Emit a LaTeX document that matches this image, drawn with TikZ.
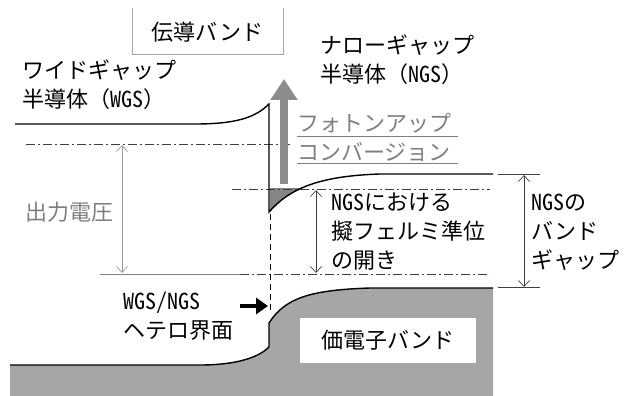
\documentclass[tikz,border=0pt]{standalone}
\usepackage{fontspec}
\setmainfont{Noto Sans CJK JP}
\newfontfamily\hw[CharacterWidth=Half]{Noto Sans CJK JP}
\newcommand{\lat}[1]{{\hw #1}}
\usetikzlibrary{arrows.meta}
\definecolor{vband}{HTML}{A6A6A6}
\definecolor{arrgray}{HTML}{8C8C8C}
\definecolor{txtgray}{HTML}{7F7F7F}
\begin{document}
\begin{tikzpicture}[x=1pt,y=-1pt,
  every node/.style={inner sep=0pt, font=\fontsize{22}{29}\selectfont},
  lbl/.style={anchor=west, align=left},
  band/.style={line width=1.4pt, draw=black},
  ddash/.style={line width=0.9pt, draw=darkgray, dash pattern=on 9pt off 3pt on 2pt off 3pt},
  thinarr/.style={line width=0.7pt, draw=gray, {Straight Barb[length=6pt,width=11pt]}-{Straight Barb[length=6pt,width=11pt]}},
  bigarr/.style={line width=8pt, draw=arrgray, -{Triangle[length=21pt,width=26pt]}},
  blkarr/.style={line width=4pt, draw=black, -{Triangle[length=12pt,width=16pt]}},
  gapline/.style={line width=0.9pt, draw=darkgray}
]
\useasboundingbox (0,0) rectangle (625,396);

% valence band (grey region)
\fill[vband] (10,396) -- (10,365) -- (200,365) .. controls (235,365) and (258,358) .. (269,347) -- (269,323)
  .. controls (285,298) and (310,290) .. (370,288) -- (493,288) -- (493,396) -- cycle;
\draw[band] (10,365) -- (200,365) .. controls (235,365) and (258,358) .. (269,347) -- (269,323)
  .. controls (285,298) and (310,290) .. (370,288) -- (493,288);

% small grey wedge under NGS quasi-Fermi level
\begin{scope}
  \clip (269,189) rectangle (310,215);
  \fill[vband!80!black] (270,212) .. controls (290,188) and (320,176) .. (380,174) -- (270,174) -- cycle;
\end{scope}

% Fermi-level lines
\draw[ddash] (26,144) -- (290,144);
\draw[ddash] (232,189) -- (490,189);
\draw[gapline, draw=gray] (100,274) -- (240,274);
\draw[ddash] (240,274) -- (490,274);

% conduction band
\draw[band] (15,124) -- (195,124) .. controls (235,124) and (255,118) .. (269,104) -- (269,212)
  .. controls (290,188) and (320,176) .. (380,174) -- (493,174);

% interface dashed line
\draw[line width=0.8pt, dashed, dash pattern=on 6pt off 4pt] (270,214) -- (270,313);

% band-gap reference ticks
\coordinate (gt1) at (498,174); \coordinate (gt2) at (540,174);
\coordinate (gb1) at (498,287); \coordinate (gb2) at (540,287);
\draw[gapline] (gt1) -- (gt2);
\draw[gapline] (gb1) -- (gb2);

% arrows
\coordinate (ovt) at (122,145); \coordinate (ovb) at (122,273);
\draw[thinarr, draw=gray!80] (ovt) -- (ovb);
\coordinate (qft) at (316,190); \coordinate (qfb) at (316,273);
\draw[thinarr, draw=darkgray] (qft) -- (qfb);
\coordinate (bgt) at (524,175); \coordinate (bgb) at (524,287);
\draw[thinarr, draw=darkgray] (bgt) -- (bgb);

\coordinate (pb) at (284,184); \coordinate (pt) at (284,79);
\draw[bigarr] (pb) -- (pt);

\coordinate (ha) at (240,306); \coordinate (hb) at (268,306);
\draw[blkarr] (ha) -- (hb);

% boxes
\draw[line width=0.6pt, draw=gray!70] (132,8) -- (132,54) -- (283,54) -- (283,8);
\node (cb) at (207.5,32) {伝導バンド};
\node[fill=white, minimum width=176pt, minimum height=45pt] (vb) at (388,340) {価電子バンド};

% labels
\node[lbl] (wgs) at (22,85) {ワイドギャップ\\半導体（\lat{WGS}）};
\node[lbl] (ngs) at (320,60) {ナローギャップ\\半導体（\lat{NGS}）};
\node[lbl, text=txtgray] (photon) at (297,137) {フォトンアップ\\コンバージョン};
\draw[line width=0.9pt, draw=txtgray] (297,136) -- (458,136);
\draw[line width=0.9pt, draw=txtgray] (297,163) -- (458,163);
\node[lbl, text=txtgray] (vout) at (25,212) {出力電圧};
\node[lbl] (qfl) at (331,232) {\lat{NGS}における\\擬フェルミ準位\\の開き};
\node[lbl] (bgl) at (531,232) {\lat{NGS}の\\バンド\\ギャップ};
\node[lbl] (het) at (123,316) {\lat{WGS/NGS}\\ヘテロ界面};
\end{tikzpicture}
\end{document}
